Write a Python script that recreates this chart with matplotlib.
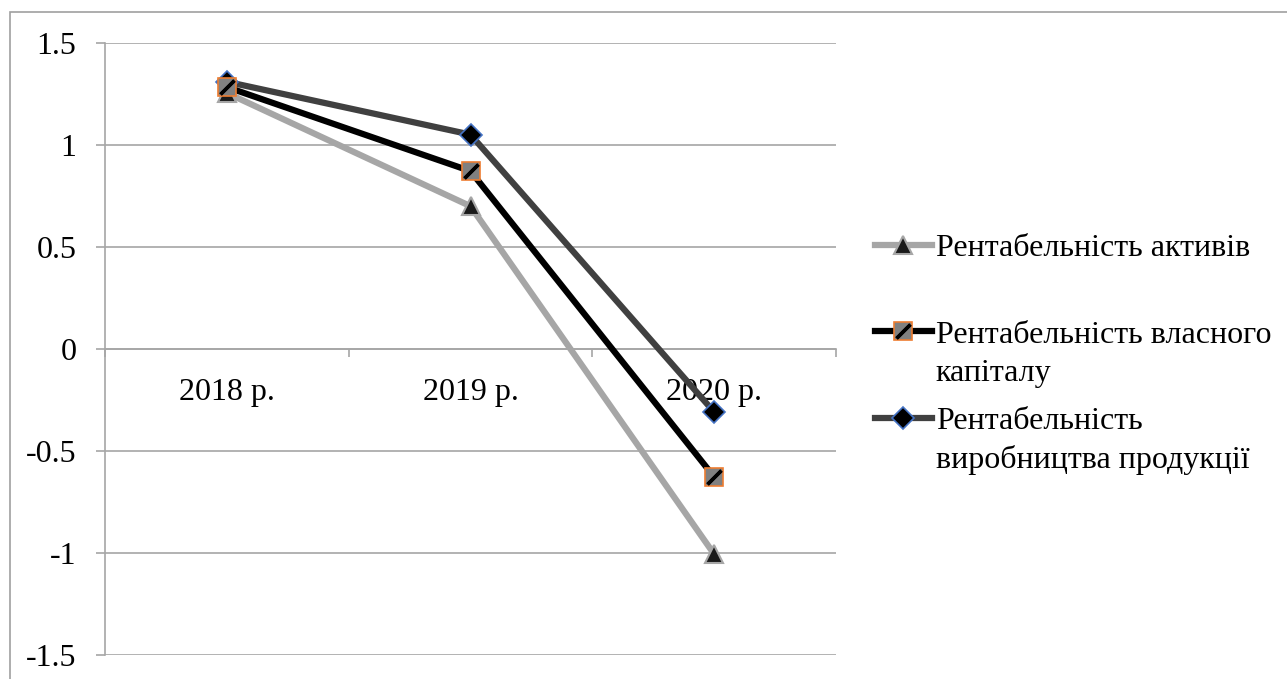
import numpy as np
import matplotlib.pyplot as plt
from matplotlib.patches import Rectangle
from matplotlib.ticker import FuncFormatter

plt.rcParams['font.family'] = ['Liberation Serif', 'DejaVu Serif']

years = ['2018 р.', '2019 р.', '2020 р.']
assets = [1.255, 0.70, -1.006]
equity = [1.284, 0.872, -0.627]
production = [1.31, 1.051, -0.309]
labels = ['Рентабельність активів',
          'Рентабельність власного',
          'Рентабельність']
second_lines = [None, 'капіталу', 'виробництва продукції']

grid_col = '#A6A6A6'
fs = 23

fig = plt.figure(figsize=(12.87, 6.79), dpi=100)
# outer chart border (left and top edges visible)
fig.patches.append(Rectangle((10/1287, -0.1), 1.2, 1 - 12/679 + 0.1,
                             transform=fig.transFigure, fill=False,
                             edgecolor='#A0A0A0', lw=1.2))

ax = fig.add_axes([105/1287, 1 - 655/679, (836 - 105)/1287, (655 - 43)/679])
x = np.arange(len(years)) + 0.5

h_prod, = ax.plot(x, production, color='#404040', lw=4.5, marker='D', ms=11,
                  mfc='black', mec='#4472C4', mew=1.2, zorder=3)
h_ass, = ax.plot(x, assets, color='#A6A6A6', lw=4.5, marker='^', ms=13,
                 mfc='#1a1a1a', mec='#A6A6A6', mew=1.5, zorder=4)
h_eq, = ax.plot(x, equity, color='black', lw=4.5, marker='s', ms=13,
                mfc='#808080', mec='#ED7D31', mew=1.2, zorder=5)
h_eq2, = ax.plot(x, equity, ls='none', marker=(2, 2, -45), ms=14,
                 mec='black', mew=2.5, zorder=6)

ax.set_xlim(0, 3)
ax.set_ylim(-1.5, 1.5)
ax.set_yticks(np.arange(-1.5, 1.51, 0.5))
ax.yaxis.set_major_formatter(FuncFormatter(lambda v, p: f'{v:g}'))
ax.yaxis.grid(True, color=grid_col, lw=1.2)
ax.set_axisbelow(True)
ax.tick_params(axis='y', direction='out', length=6.5, width=1.2, color=grid_col,
               labelsize=fs, pad=14)

ax.set_xticks([0, 1, 2, 3])
ax.set_xticklabels([])
ax.set_xticks(x, minor=True)
ax.set_xticklabels(years, minor=True)
ax.tick_params(axis='x', which='major', direction='out', length=6, width=1.2,
               color=grid_col)
ax.tick_params(axis='x', which='minor', length=0, labelsize=fs, pad=21)

for s in ['top', 'right']:
    ax.spines[s].set_visible(False)
ax.spines['left'].set_color(grid_col)
ax.spines['left'].set_linewidth(1.2)
ax.spines['bottom'].set_position(('data', 0))
ax.spines['bottom'].set_color(grid_col)
ax.spines['bottom'].set_linewidth(1.2)

leg = ax.legend([h_ass, (h_eq, h_eq2), h_prod], labels, loc='upper left',
                bbox_to_anchor=(875/1287, 1 - 234/679),
                bbox_transform=fig.transFigure, frameon=False, fontsize=fs,
                handlelength=1.78, handletextpad=0.12, labelspacing=1.78,
                borderpad=0, borderaxespad=0)
# second lines of the long labels, placed under the legend texts
for t, extra in zip(leg.get_texts(), second_lines):
    if extra:
        ax.annotate(extra, xy=(0, 0), xycoords=t, xytext=(0, -9),
                    textcoords='offset pixels', va='top', ha='left',
                    fontsize=fs, annotation_clip=False, clip_on=False,
                    zorder=10)

fig.savefig('out.png', dpi=100)
